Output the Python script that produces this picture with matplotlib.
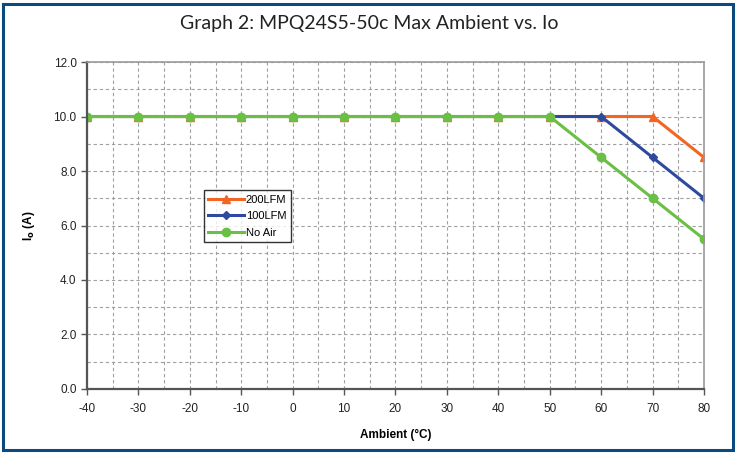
import matplotlib.pyplot as plt
from matplotlib.patches import Rectangle
from matplotlib.ticker import MultipleLocator, FormatStrFormatter

ambient = [-40, -30, -20, -10, 0, 10, 20, 30, 40, 50, 60, 70, 80]
io_200lfm = [10, 10, 10, 10, 10, 10, 10, 10, 10, 10, 10, 10, 8.5]
io_100lfm = [10, 10, 10, 10, 10, 10, 10, 10, 10, 10, 10, 8.5, 7.0]
io_noair = [10, 10, 10, 10, 10, 10, 10, 10, 10, 10, 8.5, 7.0, 5.5]

plt.rcParams['font.family'] = ['Liberation Sans', 'DejaVu Sans']
plt.rcParams['axes.unicode_minus'] = False

fig = plt.figure(figsize=(7.39, 4.53), dpi=100)
ax = fig.add_axes([0.1177, 0.1413, 0.8349, 0.7218])

# outer frame
fig.patches.append(Rectangle((0.004, 0.006), 0.988, 0.986, transform=fig.transFigure,
                             fill=False, edgecolor='#0b4a7e', linewidth=2.2))

fig.text(0.5, 0.949, 'Graph 2: MPQ24S5-50c Max Ambient vs. Io', ha='center', va='center',
         fontsize=14, family=['Lato', 'DejaVu Sans'], color='#222222')

ax.plot(ambient, io_200lfm, color='#f26522', marker='^', markersize=6, linewidth=2.2, label='200LFM')
ax.plot(ambient, io_100lfm, color='#2e4a9e', marker='D', markersize=4.5, linewidth=2.2, label='100LFM')
ax.plot(ambient, io_noair, color='#6abf45', marker='o', markersize=6, linewidth=2.2, label='No Air')

ax.set_xlim(-40, 80)
ax.set_ylim(0, 12)
ax.xaxis.set_major_locator(MultipleLocator(10))
ax.xaxis.set_minor_locator(MultipleLocator(5))
ax.yaxis.set_major_locator(MultipleLocator(2))
ax.yaxis.set_minor_locator(MultipleLocator(1))
ax.yaxis.set_major_formatter(FormatStrFormatter('%.1f'))
ax.grid(True, which='both', linestyle=(0, (3, 2.5)), color='#a0a0a0', linewidth=0.8)
ax.tick_params(which='major', direction='out', length=4, width=1, labelsize=8.5, color='#555555',
               labelcolor='#222222')
ax.tick_params(which='minor', length=0)
ax.tick_params(axis='x', pad=6)

for s in ['left', 'bottom']:
    ax.spines[s].set_color('#555555')
    ax.spines[s].set_linewidth(1.6)
for s in ['top', 'right']:
    ax.spines[s].set_color('#999999')
    ax.spines[s].set_linewidth(1.2)

ax.set_xlabel('Ambient (°C)', fontsize=8.5, fontweight='bold', labelpad=10)
ax.set_ylabel(r'I$_\mathbf{o}$ (A)', fontsize=8.5, fontweight='bold', labelpad=12)

leg = ax.legend(loc='upper left', bbox_to_anchor=(0.18, 0.625), fontsize=8, frameon=True,
                fancybox=False, edgecolor='black', handlelength=3.2, borderpad=0.4,
                labelspacing=0.6, handletextpad=0.2)
leg.get_frame().set_linewidth(1.0)

fig.savefig('out.png', dpi=100)
